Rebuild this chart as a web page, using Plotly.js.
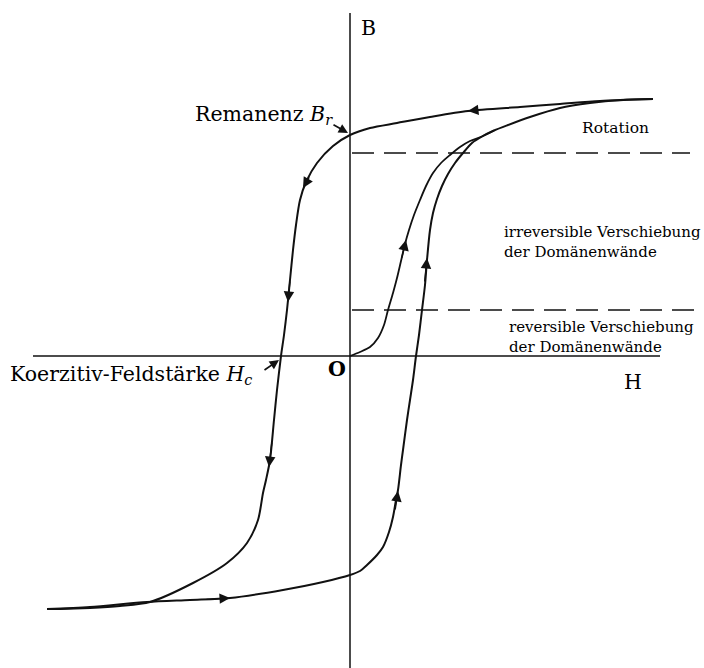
<!DOCTYPE html>
<html>
<head>
<meta charset="utf-8">
<script src="https://cdn.plot.ly/plotly-3.0.1.min.js"></script>
<style>html,body{margin:0;padding:0;background:#fff;}#chart{width:704px;height:668px;}</style>
</head>
<body>
<div id="chart"></div>
<script>
// Hysteresis loop (H horizontal, B vertical)
var descH = [30.3, 25.0, 21.0, 17.0, 11.8, 8.0, 4.7, 2.0, 0.0, -1.7, -3.3, -4.4, -5.0, -5.4, -5.7, -6.0, -6.3, -6.6, -6.9, -7.3, -7.6, -8.0, -8.4, -8.7, -9.2, -10.3, -12.3, -15.7, -20.0, -23.0, -26.0, -29.0, -30.3];
var descB = [25.7, 25.5, 25.2, 24.9, 24.5, 23.9, 23.3, 22.8, 22.1, 21.0, 19.3, 17.4, 15.6, 13.1, 10.6, 7.6, 4.6, 2.1, 0.0, -3.4, -6.4, -10.4, -12.4, -13.7, -16.4, -18.7, -20.7, -22.7, -24.6, -25.0, -25.2, -25.3, -25.3];

var ascH = [-30.3, -26.0, -20.3, -16.0, -12.0, -6.7, -2.7, 0.0, 1.0, 1.7, 2.7, 3.3, 3.9, 4.3, 4.6, 4.8, 5.1, 5.3, 5.7, 6.0, 6.3, 6.6, 6.9, 7.2, 7.5, 7.7, 8.0, 8.3, 8.7, 9.2, 9.8, 10.5, 11.3, 12.2, 13.2, 14.4, 15.8, 18.0, 21.0, 24.0, 27.0, 30.3];
var ascB = [-25.3, -25.1, -24.6, -24.4, -24.2, -23.4, -22.6, -21.9, -21.5, -20.9, -19.9, -19.1, -17.6, -16.1, -14.4, -13.4, -10.9, -9.4, -6.4, -4.4, -2.4, 0.0, 2.1, 4.6, 7.1, 9.6, 12.6, 14.3, 15.7, 17.0, 18.2, 19.3, 20.3, 21.3, 21.95, 22.55, 23.1, 23.9, 24.8, 25.3, 25.6, 25.7];

var initH = [0.0, 1.0, 2.0, 2.8, 3.4, 3.8, 4.3, 4.7, 5.1, 5.5, 5.9, 6.4, 7.0, 7.6, 8.3, 9.1, 10.0, 11.0, 12.0, 13.2, 14.4];
var initB = [0.0, 0.4, 0.9, 1.8, 3.1, 4.6, 6.3, 7.8, 9.5, 11.2, 12.6, 14.1, 15.6, 17.0, 18.3, 19.3, 20.1, 20.9, 21.5, 21.95, 22.55];

// region boundaries (dashed)
var upperBoundH = [0.2, 34.0];
var upperBoundB = [20.3, 20.3];
var lowerBoundH = [0.2, 34.7];
var lowerBoundB = [4.6, 4.6];

// coordinate axes
var hAxisH = [-31.7, 31.0];
var hAxisB = [0, 0];
var bAxisH = [0, 0];
var bAxisB = [34.3, -31.2];

// direction arrows: tip and tail points on the curves
var arrowTipH  = [11.8, -4.7, -6.2, -8.1, -12.0, 4.8, 7.7, 5.6];
var arrowTipB  = [24.5, 16.8, 5.4, -11.1, -24.2, -13.5, 9.8, 11.6];
var arrowTailH = [13.2, -4.0, -6.0, -7.8, -14.5, 4.5, 7.45, 5.15];
var arrowTailB = [24.65, 18.0, 7.6, -8.5, -24.35, -15.5, 7.3, 9.7];

// labels
var axisLabels = ['B', 'O', 'H'];
var remanenzLabel = 'Remanenz <i>B<sub>r</sub></i>';
var koerzitivLabel = 'Koerzitiv-Feldstärke <i>H<sub>c</sub></i>';
var regionLabels = ['Rotation', 'irreversible Verschiebung<br>der Domänenwände', 'reversible Verschiebung<br>der Domänenwände'];

var ink = '#111';
var serif = 'DejaVu Serif, Liberation Serif, serif';

var traces = [
  {x: hAxisH, y: hAxisB, mode: 'lines', line: {color: ink, width: 1.5}},
  {x: bAxisH, y: bAxisB, mode: 'lines', line: {color: ink, width: 1.5}},
  {x: upperBoundH, y: upperBoundB, mode: 'lines', line: {color: ink, width: 1.5, dash: '22px,10px'}},
  {x: lowerBoundH, y: lowerBoundB, mode: 'lines', line: {color: ink, width: 1.5, dash: '22px,10px'}},
  {x: descH, y: descB, mode: 'lines', line: {color: ink, width: 2, shape: 'spline', smoothing: 0.8}},
  {x: ascH, y: ascB, mode: 'lines', line: {color: ink, width: 2, shape: 'spline', smoothing: 0.8}},
  {x: initH, y: initB, mode: 'lines', line: {color: ink, width: 1.8, shape: 'spline', smoothing: 0.8}}
];

var annotations = [];
for (var i = 0; i < arrowTipH.length; i++) {
  annotations.push({
    x: arrowTipH[i], y: arrowTipB[i], ax: arrowTailH[i], ay: arrowTailB[i],
    xref: 'x', yref: 'y', axref: 'x', ayref: 'y', text: '',
    showarrow: true, arrowhead: 2, arrowsize: 1.5, arrowwidth: 1.4, arrowcolor: ink, standoff: 0
  });
}
// pointer arrows for Br and Hc
annotations.push({x: -0.2, y: 22.3, ax: -1.8, ay: 23.2, xref: 'x', yref: 'y', axref: 'x', ayref: 'y', text: '',
  showarrow: true, arrowhead: 2, arrowsize: 1.1, arrowwidth: 1.7, arrowcolor: ink, standoff: 0});
annotations.push({x: -7.1, y: -0.4, ax: -8.7, ay: -1.5, xref: 'x', yref: 'y', axref: 'x', ayref: 'y', text: '',
  showarrow: true, arrowhead: 2, arrowsize: 1.1, arrowwidth: 1.7, arrowcolor: ink, standoff: 0});

var bigFont = {family: serif, size: 20.5, color: '#000'};
annotations.push({x: 1.8, y: 32.8, text: axisLabels[0], showarrow: false, font: bigFont, xanchor: 'center', yanchor: 'middle'});
annotations.push({x: -1.3, y: -1.3, text: '<b>' + axisLabels[1] + '</b>', showarrow: false, font: bigFont, xanchor: 'center', yanchor: 'middle'});
annotations.push({x: 28.3, y: -2.6, text: axisLabels[2], showarrow: false, font: bigFont, xanchor: 'center', yanchor: 'middle'});
annotations.push({x: -1.5, y: 24.1, text: remanenzLabel, showarrow: false, font: bigFont, xanchor: 'right', yanchor: 'middle'});
annotations.push({x: -34.2, y: -1.9, text: koerzitivLabel, showarrow: false, font: bigFont, xanchor: 'left', yanchor: 'middle'});

var smallFont = {family: serif, size: 15, color: '#000'};
annotations.push({x: 26.5, y: 22.8, text: regionLabels[0], showarrow: false, font: {family: serif, size: 15.5, color: '#000'}, xanchor: 'center', yanchor: 'middle'});
annotations.push({x: 15.2, y: 11.45, text: regionLabels[1], showarrow: false, font: smallFont, xanchor: 'left', yanchor: 'middle', align: 'left'});
annotations.push({x: 15.7, y: 1.95, text: regionLabels[2], showarrow: false, font: smallFont, xanchor: 'left', yanchor: 'middle', align: 'left'});

var layout = {
  width: 704, height: 668,
  margin: {l: 0, r: 0, t: 0, b: 0},
  paper_bgcolor: '#fff', plot_bgcolor: '#fff',
  showlegend: false,
  xaxis: {range: [-35, 35.4], visible: false, fixedrange: true},
  yaxis: {range: [-31.2, 35.6], visible: false, fixedrange: true},
  annotations: annotations
};

Plotly.newPlot('chart', traces, layout, {displayModeBar: false, staticPlot: true});
</script>
</body>
</html>
